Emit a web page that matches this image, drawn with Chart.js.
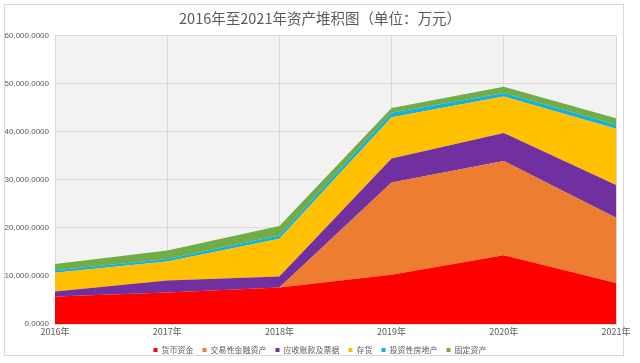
<!DOCTYPE html>
<html><head><meta charset="utf-8">
<script src="https://cdn.jsdelivr.net/npm/chart.js@4/dist/chart.umd.min.js"></script>
<style>html,body{margin:0;padding:0;background:#fff}#wrap{width:640px;height:363px;position:relative}</style>
</head><body><div id="wrap"><canvas id="c" width="640" height="363"></canvas></div>
<script>
const categories = ['2016年','2017年','2018年','2019年','2020年','2021年'];
const seriesNames = ['货币资金','交易性金融资产','应收账款及票据','存货','投资性房地产','固定资产'];
const cash      = [5700, 6550, 7600, 10250, 14300, 8500];
const tradingFA = [0, 0, 0, 19150, 19600, 13600];
const receivab  = [1050, 2500, 2300, 5000, 5800, 6800];
const inventory = [3900, 3950, 7800, 8600, 7600, 11700];
const investRE  = [500, 500, 700, 900, 700, 900];
const fixedAsset= [1300, 1800, 2000, 1000, 1300, 1300];
const yTicks = [0, 10000, 20000, 30000, 40000, 50000, 60000];
const colors = ['#FF0000','#ED7D31','#7030A0','#FFC000','#17B0D8','#70AD47'];

const seriesData = [cash, tradingFA, receivab, inventory, investRE, fixedAsset];
const FONT = "'Noto Sans CJK SC', 'Noto Sans', sans-serif";

const bgPlugin = {
  id: 'bg',
  beforeDraw(chart) {
    const {ctx, chartArea: a} = chart;
    ctx.save();
    ctx.fillStyle = '#ffffff';
    ctx.fillRect(0, 0, chart.width, chart.height);
    ctx.strokeStyle = '#d9d9d9';
    ctx.lineWidth = 1;
    ctx.strokeRect(4.5, 4.5, 619, 351);
    ctx.fillStyle = '#f2f2f2';
    ctx.fillRect(a.left, a.top, a.right - a.left, a.bottom - a.top);
    ctx.restore();
  }
};

new Chart(document.getElementById('c'), {
  type: 'line',
  data: {
    labels: categories,
    datasets: seriesData.map((d, i) => ({
      label: seriesNames[i],
      data: d,
      backgroundColor: colors[i],
      borderColor: colors[i],
      borderWidth: 0,
      pointRadius: 0,
      fill: i === 0 ? 'origin' : '-1',
      tension: 0
    }))
  },
  options: {
    responsive: false,
    animation: false,
    layout: { padding: { left: 0, right: 0, top: 8, bottom: -1 } },
    plugins: {
      title: {
        display: true,
        text: '2016年至2021年资产堆积图（单位：万元）',
        color: '#595959',
        font: { family: FONT, size: 14.5, weight: 'normal' },
        padding: { top: 2, bottom: 8 }
      },
      legend: {
        position: 'bottom',
        labels: {
          color: '#595959',
          font: { family: FONT, size: 8 },
          boxWidth: 4, boxHeight: 4,
          usePointStyle: true, pointStyle: 'rect',
          padding: 9
        }
      },
      tooltip: { enabled: false }
    },
    scales: {
      x: {
        offset: false,
        grid: { color: '#d9d9d9', drawTicks: false },
        border: { color: '#d9d9d9' },
        ticks: { color: '#595959', font: { family: FONT, size: 9 }, maxRotation: 0, padding: 2 },
        afterFit(s) { s.paddingLeft = 0; s.paddingRight = 0; s.height = 13; }
      },
      y: {
        stacked: true,
        min: 0, max: 60000,
        afterBuildTicks(s) { s.ticks = yTicks.map(v => ({ value: v })); },
        grid: { color: '#d9d9d9', drawTicks: false },
        border: { display: false },
        ticks: {
          color: '#595959', font: { family: 'Liberation Sans, Arial, sans-serif', size: 8 }, padding: 6,
          callback: v => v.toLocaleString('en-US', { minimumFractionDigits: 4, maximumFractionDigits: 4 })
        },
        afterFit(s) { s.width = 55; }
      },
      yRight: {
        position: 'right',
        display: true,
        min: 0, max: 1,
        grid: { display: false },
        border: { display: false },
        ticks: { display: false },
        afterFit(s) { s.width = 24; }
      }
    }
  },
  plugins: [bgPlugin]
});
</script></body></html>
